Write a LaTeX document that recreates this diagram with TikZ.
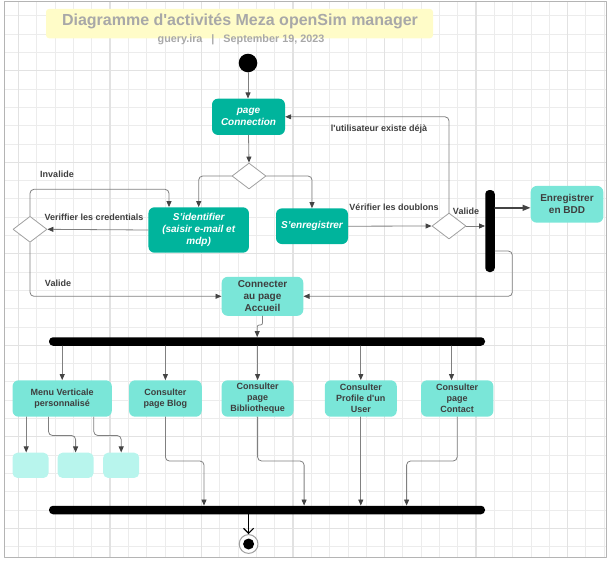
\documentclass[tikz,border=0pt]{standalone}
\usepackage{fontspec}
\setmainfont{Liberation Sans}[Ligatures=TeXOff]
\usepackage{xcolor}
\usetikzlibrary{arrows.meta,calc,positioning,shapes.geometric}

\definecolor{tealDark}{RGB}{0,180,156}
\definecolor{tealLight}{RGB}{122,230,216}
\definecolor{tealPale}{RGB}{184,245,237}
\definecolor{flowGray}{RGB}{128,128,128}
\definecolor{tipGray}{RGB}{68,68,68}
\definecolor{diaGray}{RGB}{160,160,160}
\definecolor{txtGray}{RGB}{62,62,62}
\definecolor{gridThin}{RGB}{236,236,236}
\definecolor{gridThick}{RGB}{226,226,226}
\definecolor{frameGray}{RGB}{180,180,180}
\definecolor{titleYellow}{RGB}{255,252,200}
\definecolor{titleGray}{RGB}{168,168,168}

\begin{document}
\begin{tikzpicture}[line cap=round,line join=round,x=1pt,y=-1pt,
  actDark/.style={rectangle,rounded corners=6pt,fill=tealDark,text=white,inner sep=0pt,
    align=center,font=\bfseries\itshape\fontsize{10}{12.3}\selectfont},
  actLight/.style={rectangle,rounded corners=6pt,fill=tealLight,text=txtGray,inner sep=0pt,
    align=center,font=\bfseries\fontsize{10}{12}\selectfont},
  actSmall/.style={actLight,minimum height=36.4pt,font=\bfseries\fontsize{9}{11}\selectfont},
  actPale/.style={rectangle,rounded corners=5pt,fill=tealPale,inner sep=0pt,
    minimum width=36pt,minimum height=25.3pt},
  decision/.style={diamond,draw=diaGray,fill=white,line width=0.8pt,inner sep=0pt,
    minimum width=34pt,minimum height=26pt},
  syncBar/.style={rectangle,fill=black,rounded corners=4pt,inner sep=0pt},
  flow/.style={draw=flowGray,line width=0.8pt,rounded corners=4pt,
    -{Triangle[length=6pt,width=5pt,color=tipGray]}},
  flowBold/.style={flow,draw=tipGray,line width=1.5pt,
    -{Triangle[length=8pt,width=6pt,color=tipGray]}},
  flowEnd/.style={draw=black,line width=1pt,
    -{Straight Barb[length=5pt,width=10pt,line width=1.2pt]}},
  lbl/.style={inner sep=0pt,text=txtGray,font=\bfseries\fontsize{9}{11}\selectfont},
  gridLine/.style={draw=gridThin,line width=0.7pt},
  gridMajor/.style={draw=gridThick,line width=1.2pt}]
\useasboundingbox (0,0) rectangle (613,563);

% sheet
\begin{scope}
\clip (4,1) rectangle (606,557);
\foreach \k in {0,...,33} \draw[gridLine] ({0.2+18.3*\k},0) -- ++(0,563);
\foreach \k in {0,...,30} \draw[gridLine] (0,{15.8+18.3*\k}) -- ++(613,0);
\foreach \k in {1,6,...,31} \draw[gridMajor] ({0.2+18.3*\k},0) -- ++(0,563);
\foreach \k in {3,8,...,28} \draw[gridMajor] (0,{15.8+18.3*\k}) -- ++(613,0);
\end{scope}
\draw[draw=frameGray,line width=1pt] (4,1) rectangle (606,557);

% title
\node[rectangle,fill=titleYellow,rounded corners=3pt,inner sep=0pt,
  minimum width=387pt,minimum height=29.3pt] (titleBox) at (239.5,23.6) {};
\node[inner sep=0pt,text=titleGray,font=\bfseries\fontsize{16}{18}\selectfont] (title)
  at (240,21.5) {Diagramme d'activités Meza openSim manager};
\node[inner sep=0pt,text=titleGray,font=\bfseries\fontsize{10.8}{12}\selectfont] (byline)
  at (241,39.5) {guery.ira\hspace{9pt}|\hspace{9pt}September 19, 2023};

% activities
\node[circle,fill=black,minimum size=18.6pt,inner sep=0pt] (start) at (248,63) {};
\node[actDark,minimum width=73pt,minimum height=36.3pt] (pageCo) at (248.5,116.8) {page\\Connection};
\node[decision] (d1) at (249,176) {};
\node[actDark,minimum width=100.5pt,minimum height=45.4pt] (ident) at (198.7,230) {S’identifier\\(saisir e-mail et\\mdp)};
\node[actDark,minimum width=72pt,minimum height=35.7pt] (enreg) at (312,226.2) {S’enregistrer};
\node[decision] (d2) at (30,229.3) {};
\node[decision] (d3) at (449,226) {};
\node[syncBar,minimum width=9.5pt,minimum height=82pt] (forkV) at (490,231) {};
\node[actLight,minimum width=72.6pt,minimum height=36.7pt] (bdd) at (567,204.3) {Enregistrer\\en BDD};
\node[actLight,minimum width=81.6pt,minimum height=39pt] (accueil) at (262.5,296.3) {Connecter\\au page\\Accueil};
\node[syncBar,minimum width=436pt,minimum height=8.5pt] (fork) at (267,341.5) {};
\node[actSmall,minimum width=99.3pt] (menu) at (62.2,398.5) {Menu Verticale\\personnalisé};
\node[actSmall,minimum width=72.7pt] (blog) at (165.4,398.5) {Consulter\\page Blog};
\node[actSmall,minimum width=72pt] (biblio) at (257.6,398.5) {Consulter\\page\\Bibliotheque};
\node[actSmall,minimum width=72pt] (profile) at (360.8,398.5) {Consulter\\Profile d'un\\User};
\node[actSmall,minimum width=72.4pt] (contact) at (457.2,398.5) {Consulter\\page\\Contact};
\node[actPale] (s1) at (30.5,465.3) {};
\node[actPale] (s2) at (75.6,465.3) {};
\node[actPale] (s3) at (121.2,465.3) {};
\node[syncBar,minimum width=436pt,minimum height=8.5pt] (join) at (267,510) {};
\node[circle,draw=diaGray,fill=white,line width=1pt,minimum size=18.8pt,inner sep=0pt] (endRing) at (248.6,544) {};
\node[circle,fill=black,minimum size=11pt,inner sep=0pt] (endCore) at (endRing.center) {};

% labels
\node[lbl] (lblExiste) at (379,129.3) {l'utilisateur existe déjà};
\node[lbl] (lblInval) at (57,174.3) {Invalide};
\node[lbl] (lblCred) at (94,217.7) {Veriffier les credentials};
\node[lbl] (lblValA) at (58,283.3) {Valide};
\node[lbl] (lblDoub) at (394,207.3) {Vérifier les doublons};
\node[lbl] (lblValB) at (466,211.3) {Valide};

% connection part
\draw[flow] (start) -- (start |- pageCo.north);
\draw[flow] (pageCo.south) -- (d1.north);
\draw[flow] (d1.west) -| (ident.north);
\draw[flow] (d1.east) -| (enreg.north);
\draw[flow] (ident.west) -- (d2.east);
\coordinate (invTurn) at (169,189.3);
\draw[flow] (d2.north) |- (invTurn) -- (invTurn |- ident.north);
\draw[flow] (d2.south) |- (accueil.west);
\draw[flow] (enreg.east) -- (d3.west);
\draw[flow] (d3.north) |- (pageCo.east);
\draw[flow] (d3.east) -- (d3.east -| forkV.west);
\coordinate (bddIn) at ([yshift=-3.5pt]bdd.west);
\draw[flowBold] (bddIn -| forkV.east) -- (bddIn);
\coordinate (backTurn) at (512.3,251);
\draw[flow] (backTurn -| forkV.east) -- (backTurn) |- (accueil.east);
\coordinate (jog) at (257.2,325);
\draw[flow,rounded corners=2pt] (accueil.south) |- (jog) -- (jog |- fork.north);

% pages
\foreach \act in {menu,blog,biblio,profile}
  \draw[flow] (fork.south -| \act.north) -- (\act.north);
\coordinate (contactIn) at ([xshift=-5.7pt]contact.north);
\draw[flow] (fork.south -| contactIn) -- (contactIn);
\coordinate (m1) at ([xshift=-36pt]menu.south);
\coordinate (m2) at ([xshift=-13.7pt]menu.south);
\coordinate (m3) at ([xshift=31.6pt]menu.south);
\draw[flow] (m1) -- (m1 |- s1.north);
\draw[flow] (m2) -- ++(0,18.6) -| (s2.north);
\draw[flow] (m3) -- ++(0,18.6) -| (s3.north);
\coordinate (jBlog) at (204,461);
\coordinate (jBiblio) at (304.1,461);
\coordinate (jContact) at (406.6,461);
\draw[flow] (blog.south) |- (jBlog) -- (jBlog |- join.north);
\draw[flow] (biblio.south) |- (jBiblio) -- (jBiblio |- join.north);
\draw[flow] (profile.south) -- (profile.south |- join.north);
\draw[flow] (contact.south) |- (jContact) -- (jContact |- join.north);
\draw[flowEnd] (endRing.north |- join.south) -- (endRing.north);
\end{tikzpicture}
\end{document}
